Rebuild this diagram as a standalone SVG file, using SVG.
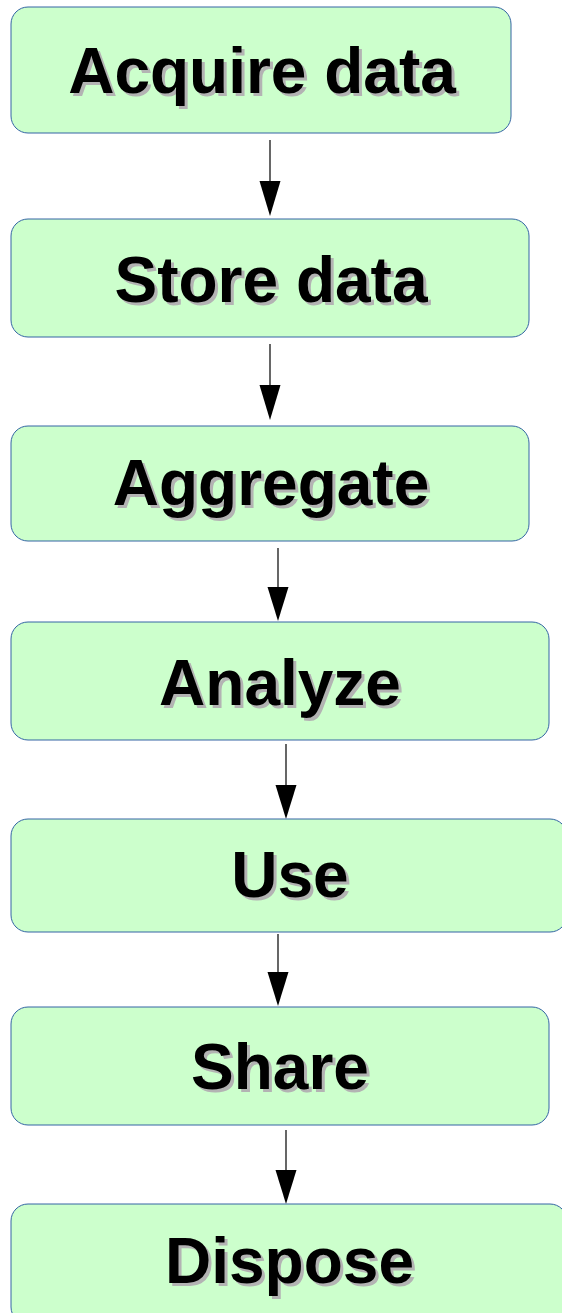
<svg xmlns="http://www.w3.org/2000/svg" width="562" height="1313" viewBox="0 0 562 1313">
  <style>
    .box { fill: #ccffcc; stroke: #3465a4; stroke-width: 1; }
    .lbl { font-family: "Liberation Sans", Arial, sans-serif; font-weight: bold; font-size: 64px; text-anchor: middle; }
    .shadow { fill: #b3b3b3; }
    .ink { fill: #000000; }
    .edge { stroke: #000000; stroke-width: 1.2; fill: none; }
    .head { fill: #000000; }
  </style>

  <rect width="562" height="1313" fill="#ffffff"/>

  <!-- connectors: shaft plus filled triangular head -->
  <g id="connectors">
    <line class="edge" x1="270" y1="140" x2="270" y2="184"/>
    <polygon class="head" points="259.5,181 280.5,181 270,216"/>

    <line class="edge" x1="270" y1="344" x2="270" y2="388"/>
    <polygon class="head" points="259.5,385 280.5,385 270,420"/>

    <line class="edge" x1="278" y1="548" x2="278" y2="590"/>
    <polygon class="head" points="267.5,587 288.5,587 278,621"/>

    <line class="edge" x1="286" y1="744" x2="286" y2="788"/>
    <polygon class="head" points="275.5,785 296.5,785 286,819"/>

    <line class="edge" x1="278" y1="934" x2="278" y2="975"/>
    <polygon class="head" points="267.5,972 288.5,972 278,1006"/>

    <line class="edge" x1="286" y1="1130" x2="286" y2="1173"/>
    <polygon class="head" points="275.5,1170 296.5,1170 286,1204"/>
  </g>

  <!-- each label is a grey offset copy under the black text -->
  <g id="acquire">
    <rect class="box" x="11" y="7" width="500" height="126" rx="17"/>
    <text class="lbl shadow" x="265" y="96">Acquire data</text>
    <text class="lbl ink" x="262" y="93">Acquire data</text>
  </g>

  <g id="store">
    <rect class="box" x="11" y="219" width="518" height="118" rx="17"/>
    <text class="lbl shadow" x="274" y="305">Store data</text>
    <text class="lbl ink" x="271" y="302">Store data</text>
  </g>

  <g id="aggregate">
    <rect class="box" x="11" y="426" width="518" height="115" rx="17"/>
    <text class="lbl shadow" x="274" y="508">Aggregate</text>
    <text class="lbl ink" x="271" y="505">Aggregate</text>
  </g>

  <g id="analyze">
    <rect class="box" x="11" y="622" width="538" height="118" rx="17"/>
    <text class="lbl shadow" x="283" y="708">Analyze</text>
    <text class="lbl ink" x="280" y="705">Analyze</text>
  </g>

  <g id="use">
    <rect class="box" x="11" y="819" width="556" height="113" rx="17"/>
    <text class="lbl shadow" x="293" y="900">Use</text>
    <text class="lbl ink" x="290" y="897">Use</text>
  </g>

  <g id="share">
    <rect class="box" x="11" y="1007" width="538" height="118" rx="17"/>
    <text class="lbl shadow" x="283" y="1092">Share</text>
    <text class="lbl ink" x="280" y="1089">Share</text>
  </g>

  <g id="dispose">
    <rect class="box" x="11" y="1204" width="556" height="120" rx="17"/>
    <text class="lbl shadow" x="292.5" y="1286">Dispose</text>
    <text class="lbl ink" x="289.5" y="1283">Dispose</text>
  </g>
</svg>
